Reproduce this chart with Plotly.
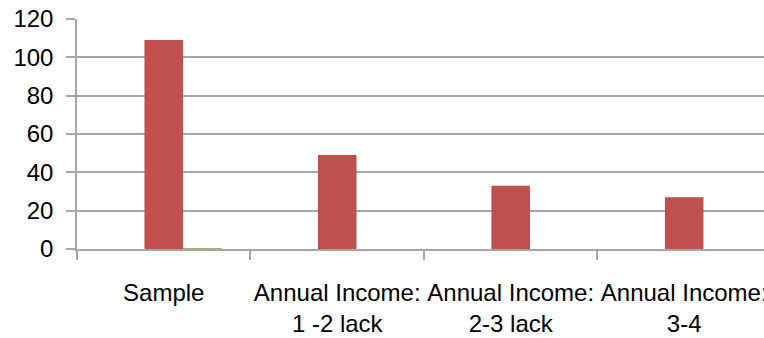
import plotly.graph_objects as go

categories = ["Sample", "Annual Income:<br>1 -2 lack", "Annual Income:<br>2-3 lack", "Annual Income:<br>3-4"]
series_blue = [0, 0, 0, 0]
series_red = [109, 49, 33, 27]
series_green = [0.5, 0, 0, 0]

fig = go.Figure()
fig.add_bar(x=categories, y=series_blue, marker_color="#4F81BD", marker_line_width=0)
fig.add_bar(x=categories, y=series_red, marker_color="#C0504D", marker_line_width=0)
fig.add_bar(x=categories, y=series_green, marker_color="#9BBB59", marker_line_width=0)

font_family = "Liberation Sans, Arial, sans-serif"

fig.update_layout(
    width=764, height=338,
    margin=dict(l=77, r=0, t=19, b=89),
    paper_bgcolor="white", plot_bgcolor="white",
    barmode="group", bargap=0.333, bargroupgap=0,
    showlegend=False,
    font=dict(family=font_family, size=24, color="#000000"),
)
fig.update_xaxes(
    type="category",
    range=[-0.5, 3.46],
    tickson="boundaries",
    ticks="outside", ticklen=9, tickcolor="#A6A6A6", tickwidth=1.5,
    showline=True, linecolor="#A6A6A6", linewidth=1.5,
    showgrid=False,
    tickfont=dict(size=24),
    tickangle=0,
    automargin=False,
    ticklabelstandoff=21,
)
fig.update_yaxes(
    range=[0, 120], dtick=20,
    ticks="outside", ticklen=9, tickcolor="#A6A6A6", tickwidth=1.5,
    showline=True, linecolor="#A6A6A6", linewidth=1.5,
    showgrid=True, gridcolor="#A6A6A6", gridwidth=1.5,
    zeroline=False,
    tickfont=dict(size=24),
    automargin=False,
    ticklabelstandoff=8,
)

fig.write_html("out.html")
